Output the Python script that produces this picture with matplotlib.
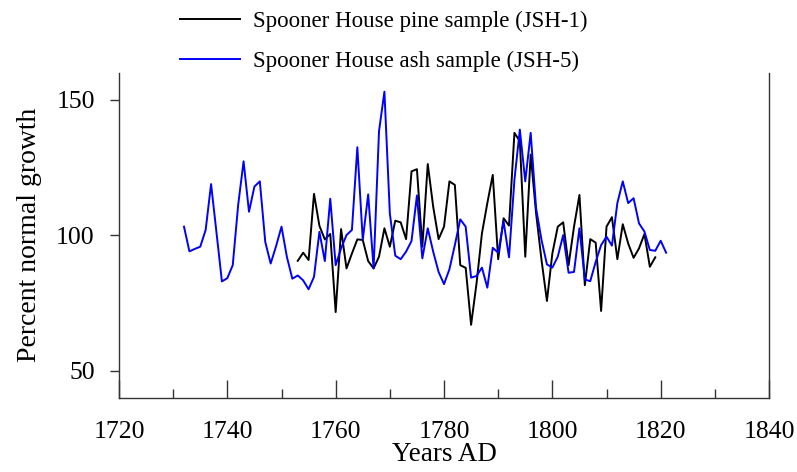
import numpy as np
import matplotlib
matplotlib.use('Agg')
import matplotlib.pyplot as plt
from matplotlib.ticker import MultipleLocator

plt.rcParams['font.family'] = ['Liberation Serif', 'DejaVu Serif']

# Spooner House ash sample (JSH-5), 1732-1821
ash_years = np.arange(1732, 1822)
ash_growth = [
    103.2, 94.1, 95.0, 95.8, 102.0, 118.9, 101.0, 83.0, 84.2, 89.0,      # 1732-1741
    111.2, 127.3, 108.7, 118.0, 119.9, 97.6, 89.6, 96.0, 103.2, 92.0,    # 1742-1751
    84.0, 85.2, 83.4, 80.1, 84.7, 101.3, 90.5, 113.5, 89.0, 95.2,        # 1752-1761
    100.1, 102.0, 132.5, 98.3, 115.1, 87.8, 138.4, 153.0, 108.1, 92.5,   # 1762-1771
    91.2, 94.0, 97.9, 114.7, 91.5, 102.6, 94.0, 86.5, 82.0, 87.5,        # 1772-1781
    96.4, 105.9, 103.2, 84.4, 85.0, 88.1, 80.7, 95.4, 93.6, 105.1,       # 1782-1791
    91.9, 120.5, 139.0, 119.9, 137.8, 110.0, 98.3, 89.3, 88.1, 92.1,     # 1792-1801
    100.1, 86.2, 86.5, 102.6, 83.7, 83.1, 90.2, 96.4, 99.5, 96.2,        # 1802-1811
    111.9, 119.9, 111.9, 113.7, 104.4, 101.4, 94.6, 94.3, 98.0, 93.6,    # 1812-1821
]

# Spooner House pine sample (JSH-1), 1753-1819
pine_years = np.arange(1753, 1820)
pine_growth = [
    90.6, 93.6, 90.9, 115.3, 103.5, 98.5, 100.5, 71.7, 102.3, 87.8,      # 1753-1762
    93.3, 98.5, 98.3, 90.5, 87.8, 92.1, 102.6, 95.8, 105.4, 104.8,       # 1763-1772
    98.6, 123.6, 124.4, 95.8, 126.3, 110.6, 98.6, 103.2, 119.9, 118.6,   # 1773-1782
    89.0, 88.0, 67.0, 82.2, 100.7, 111.9, 122.3, 91.2, 106.3, 103.6,     # 1783-1792
    137.8, 134.7, 92.1, 129.8, 108.1, 90.9, 75.8, 93.3, 103.2, 104.8,    # 1793-1802
    89.0, 103.2, 114.9, 81.6, 98.6, 97.3, 72.1, 103.2, 106.7, 91.2,      # 1803-1812
    104.1, 97.0, 91.7, 95.2, 100.5, 88.4, 91.9,                          # 1813-1819
]

fig = plt.figure(figsize=(7.97, 4.72), dpi=100)
ax = fig.add_axes([0.1493, 0.1568, 0.8156, 0.6892])

l1, = ax.plot(pine_years, pine_growth, color='black', lw=1.4,
              label='Spooner House pine sample (JSH-1)')
l2, = ax.plot(ash_years, ash_growth, color='#0000ff', lw=1.4,
              label='Spooner House ash sample (JSH-5)')

ax.set_xlim(1720, 1840)
ax.set_ylim(40, 160)
ax.xaxis.set_major_locator(MultipleLocator(20))
ax.xaxis.set_minor_locator(MultipleLocator(10))
ax.set_yticks([50, 100, 150])

ax.spines['top'].set_visible(False)
for s in ['left', 'right', 'bottom']:
    ax.spines[s].set_color('#333333')
    ax.spines[s].set_linewidth(1.0)

ax.tick_params(axis='x', which='major', direction='in', length=13, width=1,
               color='#333333', labelsize=18.5, pad=16.5)
ax.tick_params(axis='x', which='minor', direction='in', length=6.5, width=1,
               color='#333333')
ax.tick_params(axis='y', which='major', direction='out', length=6.5, width=1,
               color='#333333', labelsize=18.5, pad=11)

ax.set_xlabel('Years AD', fontsize=19.5, labelpad=-1)
ax.set_ylabel('Percent normal growth', fontsize=20, labelpad=10)

fig.legend(handles=[l1, l2], loc='upper left', bbox_to_anchor=(0.2, 1.02),
           frameon=False, fontsize=16.5, handlelength=2.6, handletextpad=0.6,
           labelspacing=0.8)

fig.savefig('out.png', dpi=100)
